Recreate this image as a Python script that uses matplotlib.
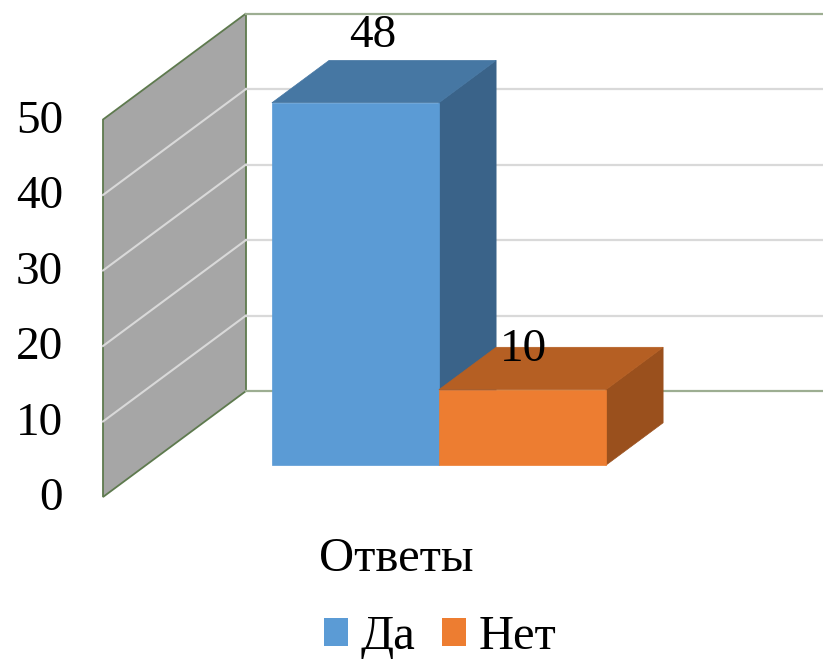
import matplotlib
matplotlib.use("Agg")
import matplotlib.pyplot as plt
from matplotlib.patches import Polygon, Patch

plt.rcParams['font.family'] = ['Liberation Serif', 'DejaVu Serif']

# data
category = "Ответы"
series_names = ["Да", "Нет"]
series_values = [48, 10]
y_ticks = [0, 10, 20, 30, 40, 50]

front_colors = ['#5B9BD5', '#ED7D31']
top_colors = ['#4677A3', '#B55F23']
side_colors = ['#3A6389', '#9A501D']

# fake 3d projection (pixel space)
X0, Y0 = 103, 497
DX, DY = 143, 106
SCALE = 7.55
YMAX = 50

def proj(u, d, v):
    return (X0 + u + d * DX, Y0 - v * SCALE - d * DY)

fig = plt.figure(figsize=(8.23, 6.63), dpi=100)
ax = fig.add_axes([0, 0, 1, 1])
ax.set_xlim(0, 823)
ax.set_ylim(663, 0)
ax.axis('off')

wall_edge = '#5E7A4E'
grid_c = '#D9D9D9'
u_end = 823 - X0 - DX

# left wall
wall = [proj(0, 0, 0), proj(0, 1, 0), proj(0, 1, YMAX), proj(0, 0, YMAX)]
ax.add_patch(Polygon(wall, closed=True, facecolor='#A6A6A6', edgecolor=wall_edge, lw=1.3, zorder=1))
for v in y_ticks[1:-1]:
    a, b = proj(0, 0, v), proj(0, 1, v)
    ax.plot([a[0], b[0]], [a[1], b[1]], color=grid_c, lw=1.5, zorder=2)

# back wall gridlines
for v in y_ticks:
    a, b = proj(0, 1, v), proj(u_end, 1, v)
    c = '#9DAE92' if v in (0, YMAX) else grid_c
    ax.plot([a[0], b[0]], [a[1], b[1]], color=c, lw=1.6, zorder=1)

# tick labels
for v in y_ticks:
    x, y = proj(0, 0, v)
    ax.text(63, y + 2, str(v), ha='right', va='center', fontsize=34, color='black')

# bars
start_u = 126
bar_w = 167
d0, d1 = 0.3, 0.7
label_off = [(17, -67), (1, -40)]
for i, val in enumerate(series_values):
    u0 = start_u + i * bar_w
    u1 = u0 + bar_w
    side = [proj(u1, d0, 0), proj(u1, d1, 0), proj(u1, d1, val), proj(u1, d0, val)]
    top = [proj(u0, d0, val), proj(u1, d0, val), proj(u1, d1, val), proj(u0, d1, val)]
    front = [proj(u0, d0, 0), proj(u1, d0, 0), proj(u1, d0, val), proj(u0, d0, val)]
    z = 3 + i
    ax.add_patch(Polygon(side, closed=True, facecolor=side_colors[i], edgecolor=side_colors[i], lw=0.5, zorder=z))
    ax.add_patch(Polygon(top, closed=True, facecolor=top_colors[i], edgecolor=top_colors[i], lw=0.5, zorder=z))
    ax.add_patch(Polygon(front, closed=True, facecolor=front_colors[i], edgecolor=front_colors[i], lw=0.5, zorder=z))
    fx, fy = proj((u0 + u1) / 2, d0, val)
    ax.text(fx + label_off[i][0], fy + label_off[i][1], str(val), ha='center', va='center',
            fontsize=34, color='black', zorder=10)

ax.text(396, 559, category, ha='center', va='center', fontsize=35, color='black')

handles = [Patch(facecolor=front_colors[i], edgecolor='none', label=series_names[i]) for i in range(2)]
fig.legend(handles=handles, loc='center', bbox_to_anchor=(440 / 823, 1 - 637 / 663), ncol=2,
           frameon=False, fontsize=35, handlelength=0.5, handleheight=0.5,
           handletextpad=0.25, columnspacing=0.55)

fig.savefig('out.png', dpi=100)
